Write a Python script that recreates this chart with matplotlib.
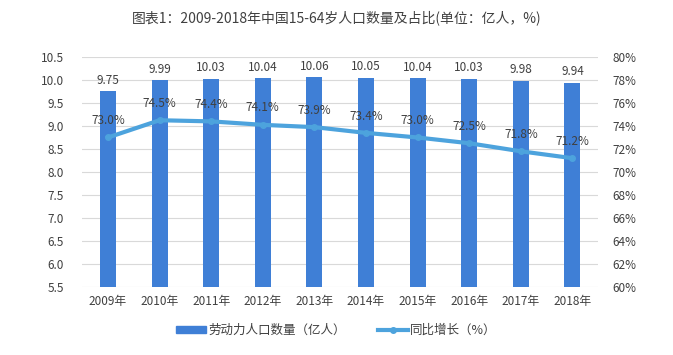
import matplotlib
matplotlib.use('Agg')
import matplotlib.pyplot as plt
import numpy as np
from matplotlib.lines import Line2D
from matplotlib.patches import Patch

plt.rcParams['font.family'] = ['Noto Sans CJK SC', 'DejaVu Sans']

years = ['2009年', '2010年', '2011年', '2012年', '2013年',
         '2014年', '2015年', '2016年', '2017年', '2018年']
labor = [9.75, 9.99, 10.03, 10.04, 10.06, 10.05, 10.04, 10.03, 9.98, 9.94]
ratio = [73.0, 74.5, 74.4, 74.1, 73.9, 73.4, 73.0, 72.5, 71.8, 71.2]

bar_color = '#3f7fd6'
line_color = '#4da3dd'
txt = '#404040'

fig = plt.figure(figsize=(6.73, 3.55), dpi=100)
ax = fig.add_axes([0.122, 0.1915, 0.767, 0.648])
ax2 = ax.twinx()

x = np.arange(len(years))
ax.bar(x, labor, width=0.31, color=bar_color, zorder=2)
ax.set_ylim(5.5, 10.5)
ax.set_yticks(np.arange(5.5, 10.51, 0.5))
ax.set_yticklabels(['%.1f' % v for v in np.arange(5.5, 10.51, 0.5)])
ax.set_xlim(-0.5, len(years) - 0.5)
ax.set_xticks(x)
ax.set_xticklabels(years)
ax.grid(axis='y', color='#d9d9d9', lw=0.8, zorder=0)
ax.set_axisbelow(True)
for v, val in zip(x, labor):
    ax.text(v, val + 0.1, '%.2f' % val, ha='center', va='bottom', fontsize=8.5, color=txt)

ax2.plot(x, ratio, color=line_color, lw=3, marker='o', markersize=4, zorder=3)
ax2.set_ylim(60, 80)
ax2.set_yticks(np.arange(60, 81, 2))
ax2.set_yticklabels(['%d%%' % v for v in np.arange(60, 81, 2)])
for v, val in zip(x, ratio):
    ax2.text(v, val + 0.9, '%.1f%%' % val, ha='center', va='bottom', fontsize=8.5, color=txt)

for a in (ax, ax2):
    for s in a.spines.values():
        s.set_visible(False)
    a.tick_params(length=0, labelsize=8.5, colors=txt)
ax.tick_params(axis='y', pad=13)
ax2.tick_params(axis='y', pad=10)
ax.tick_params(axis='x', pad=6)

handles = [Patch(color=bar_color, label='劳动力人口数量（亿人）'),
           Line2D([0], [0], color=line_color, lw=3, marker='o', markersize=4, label='同比增长（%）')]
fig.legend(handles=handles, loc='center', bbox_to_anchor=(0.5, 0.07), ncol=2,
           frameon=False, fontsize=9, handlelength=2.4, handleheight=0.5,
           handletextpad=0.2, columnspacing=2.5, labelcolor=txt)

fig.text(0.5, 0.95, '图表1：2009-2018年中国15-64岁人口数量及占比(单位：亿人，%)',
         ha='center', va='center', fontsize=10, color=txt)

fig.savefig('out.png', dpi=100)
